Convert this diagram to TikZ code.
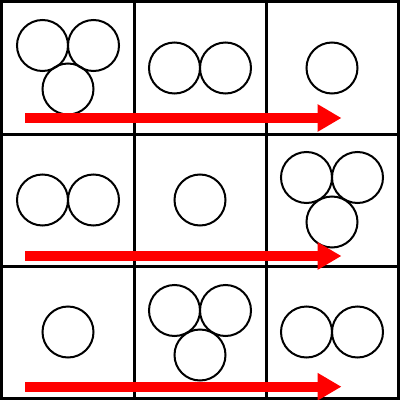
\documentclass[tikz,border=0pt]{standalone}
\usetikzlibrary{arrows.meta,positioning}

\begin{document}
\begin{tikzpicture}[
  x=0.25mm, y=-0.25mm,
  gridline/.style={line width=0.75mm},
  ball/.style={draw,circle,line width=0.5mm,minimum size=12.75mm,
               inner sep=0pt,outer sep=0pt},
  flow/.style={red,line width=2.5mm,-{Triangle[length=6mm,width=6.5mm]}}
]
\useasboundingbox (0,0) rectangle (400,400);
% grid
\draw[gridline] (1.5,1.5) rectangle (398.5,398.5);
\draw[gridline] (134,1.5) -- (134,398.5);
\draw[gridline] (266,1.5) -- (266,398.5);
\draw[gridline] (1.5,134) -- (398.5,134);
\draw[gridline] (1.5,266) -- (398.5,266);
% row 1
\node[ball] (a1) at (42.5,45.5) {};
\node[ball,right=0pt of a1] (a2) {};
\node[ball] (a3) at (68,89) {};
\node[ball] (b1) at (174.5,68) {};
\node[ball,right=0pt of b1] (b2) {};
\node[ball] (c1) at (332,68) {};
% row 2
\node[ball] (d1) at (42.5,200) {};
\node[ball,right=0pt of d1] (d2) {};
\node[ball] (e1) at (200,200) {};
\node[ball] (f1) at (306.5,177.5) {};
\node[ball,right=0pt of f1] (f2) {};
\node[ball] (f3) at (332,222) {};
% row 3
\node[ball] (g1) at (68,332) {};
\node[ball] (h1) at (174.5,310.5) {};
\node[ball,right=0pt of h1] (h2) {};
\node[ball] (h3) at (200,355) {};
\node[ball] (i1) at (306.5,332) {};
\node[ball,right=0pt of i1] (i2) {};
% arrows
\coordinate (s1) at (25,118);
\coordinate (t1) at (341.5,118);
\coordinate (s2) at (25,256);
\coordinate (t2) at (341.5,256);
\coordinate (s3) at (25,386.7);
\coordinate (t3) at (341.5,386.7);
\draw[flow] (s1) -- (t1);
\draw[flow] (s2) -- (t2);
\draw[flow] (s3) -- (t3);
\end{tikzpicture}
\end{document}
